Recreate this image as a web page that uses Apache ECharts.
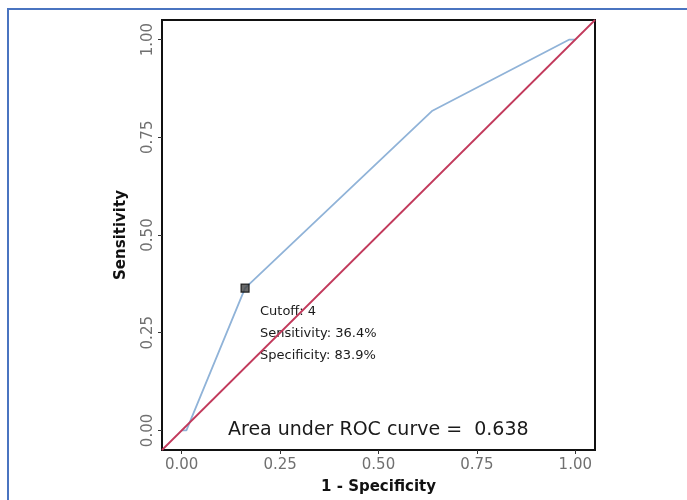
<!DOCTYPE html>
<html>
<head>
<meta charset="utf-8">
<script src="https://cdn.jsdelivr.net/npm/echarts@6/dist/echarts.min.js"></script>
<style>
html,body{margin:0;padding:0;background:#fff;}
#frame{position:absolute;left:7px;top:8px;width:690px;height:500px;border-top:2px solid #4a74c0;border-left:2px solid #4a74c0;}
#chart{position:absolute;left:0;top:0;width:687px;height:500px;}
</style>
</head>
<body>
<div id="frame"></div>
<div id="chart"></div>
<script>
// ROC curve points: [1 - specificity, sensitivity]
const rocFpr = [0.0, 0.012, 0.161, 0.637, 0.985, 1.0];
const rocTpr = [0.0, 0.0, 0.364, 0.818, 1.0, 1.0];
const cutoffPoint = [0.161, 0.364];
const diagonal = [[-0.05, -0.05], [1.05, 1.05]];
const tickValues = [0, 0.25, 0.5, 0.75, 1.0];
const tickLabels = ['0.00', '0.25', '0.50', '0.75', '1.00'];
const annoLines = ['Cutoff: 4', 'Sensitivity: 36.4%', 'Specificity: 83.9%'];
const aucText = 'Area under ROC curve =  0.638';

const chart = echarts.init(document.getElementById('chart'), null, {renderer: 'canvas'});
const fmt = v => { const i = tickValues.findIndex(t => Math.abs(t - v) < 1e-9); return i >= 0 ? tickLabels[i] : ''; };
const axisCommon = {
  type: 'value', min: -0.05, max: 1.05,
  splitLine: {show: false},
  axisLine: {show: false, onZero: false},
  axisTick: {show: true, inside: false, length: 4, lineStyle: {color: '#333', width: 1}, customValues: tickValues},
  nameTextStyle: {fontFamily: 'DejaVu Sans', fontWeight: 'bold', fontSize: 15, color: '#111'}
};
chart.setOption({
  animation: false,
  grid: {left: 162, top: 20, width: 433, height: 431, show: true, borderColor: '#111', borderWidth: 2, backgroundColor: 'transparent'},
  xAxis: Object.assign({}, axisCommon, {
    name: '1 - Specificity', nameLocation: 'middle', nameGap: 30,
    axisLabel: {customValues: tickValues, formatter: fmt, fontFamily: 'DejaVu Sans', fontSize: 15, color: '#707070', margin: 8}
  }),
  yAxis: Object.assign({}, axisCommon, {
    name: 'Sensitivity', nameLocation: 'middle', nameGap: 33,
    axisLabel: {customValues: tickValues, formatter: fmt, fontFamily: 'DejaVu Sans', fontSize: 15, color: '#707070', rotate: 90, margin: 6}
  }),
  series: [
    {type: 'line', data: diagonal, showSymbol: false, symbol: 'none', lineStyle: {color: '#c23a5c', width: 1.8}, clip: true, z: 3},
    {type: 'line', data: rocFpr.map((x, i) => [x, rocTpr[i]]), showSymbol: false, symbol: 'none', lineStyle: {color: '#90b3d8', width: 1.8}, z: 2},
    {type: 'scatter', data: [cutoffPoint], symbol: 'rect', symbolSize: 8, itemStyle: {color: '#444', borderColor: '#000', borderWidth: 1.2}, z: 5}
  ],
  graphic: [
    {type: 'text', left: 260, top: 301, style: {text: annoLines.join('\n'), fontFamily: 'DejaVu Sans', fontSize: 13, lineHeight: 22, fill: '#1a1a1a'}},
    {type: 'text', left: 228, top: 421, style: {text: aucText, fontFamily: 'DejaVu Sans', fontSize: 19, fill: '#1a1a1a'}}
  ]
});
</script>
</body>
</html>
